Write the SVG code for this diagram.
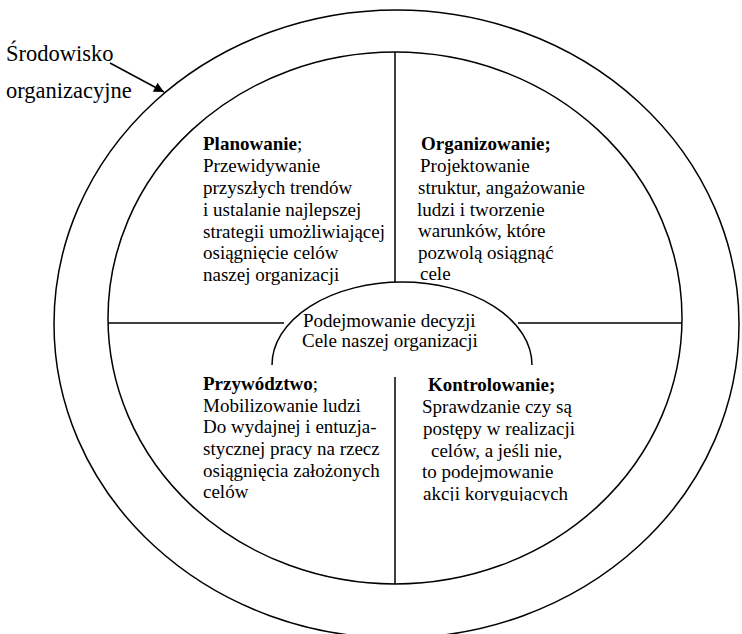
<svg xmlns="http://www.w3.org/2000/svg" width="742" height="634" viewBox="0 0 742 634">
<style>
  .ln { fill: none; stroke: #000; stroke-width: 1.5; }
  .t { font-family: "Liberation Serif", "Times New Roman", serif; font-size: 19px; fill: #000; }
  .lbl { font-family: "Liberation Serif", "Times New Roman", serif; font-size: 22.5px; fill: #000; }
  .b { font-weight: bold; }
</style>
<defs>
  <marker id="ah" viewBox="0 0 10 10" refX="10" refY="5" markerWidth="12" markerHeight="10" markerUnits="userSpaceOnUse" orient="auto">
    <path d="M0,0 L10,5 L0,10 Z" fill="#000"/>
  </marker>
  <clipPath id="clipK">
    <rect x="400" y="360" width="220" height="141"/>
  </clipPath>
</defs>
<rect width="742" height="634" fill="#fff"/>

<g id="environment">
  <ellipse class="ln" cx="396.5" cy="324" rx="342.5" ry="314"/>
  <text class="lbl" x="6" y="61">Środowisko</text>
  <text class="lbl" x="6" y="98">organizacyjne</text>
</g>

<g id="management">
  <ellipse class="ln" cx="395" cy="318" rx="287" ry="266"/>
  <g id="dividers">
    <line class="ln" x1="395" y1="52" x2="395" y2="282"/>
    <line class="ln" x1="395" y1="377" x2="395" y2="584"/>
    <line class="ln" x1="108" y1="323" x2="284" y2="323"/>
    <line class="ln" x1="518" y1="323" x2="682" y2="323"/>
  </g>
</g>

<g id="planowanie">
  <text class="t" x="203" y="150"><tspan class="b">Planowanie</tspan>;</text>
  <text class="t" x="203" y="172">Przewidywanie</text>
  <text class="t" x="203" y="194">przyszłych trendów</text>
  <text class="t" x="203" y="216">i ustalanie najlepszej</text>
  <text class="t" x="203" y="238">strategii umożliwiającej</text>
  <text class="t" x="203" y="259">osiągnięcie celów</text>
  <text class="t" x="203" y="281">naszej organizacji</text>
</g>

<g id="organizowanie">
  <text class="t b" x="421" y="150">Organizowanie;</text>
  <text class="t" x="420" y="172">Projektowanie</text>
  <text class="t" x="418" y="194">struktur, angażowanie</text>
  <text class="t" x="417" y="216">ludzi i tworzenie</text>
  <text class="t" x="418" y="237">warunków, które</text>
  <text class="t" x="418" y="259">pozwolą osiągnąć</text>
  <text class="t" x="420" y="280">cele</text>
</g>

<g id="decyzje">
  <path class="ln" d="M272,365 A130,83 0 0 1 532,365"/>
  <text class="t" x="303" y="327">Podejmowanie decyzji</text>
  <text class="t" x="302" y="347">Cele naszej organizacji</text>
</g>

<g id="przywodztwo">
  <text class="t" x="203" y="390"><tspan class="b">Przywództwo</tspan>;</text>
  <text class="t" x="203" y="412">Mobilizowanie ludzi</text>
  <text class="t" x="203" y="433">Do wydajnej i entuzja-</text>
  <text class="t" x="203" y="455">stycznej pracy na rzecz</text>
  <text class="t" x="203" y="477">osiągnięcia założonych</text>
  <text class="t" x="203" y="498">celów</text>
</g>

<g id="kontrolowanie">
  <text class="t b" x="428" y="391">Kontrolowanie;</text>
  <text class="t" x="422" y="413">Sprawdzanie czy są</text>
  <text class="t" x="423" y="435">postępy w realizacji</text>
  <text class="t" x="431" y="457">celów, a jeśli nie,</text>
  <text class="t" x="422" y="478">to podejmowanie</text>
  <g clip-path="url(#clipK)">
    <text class="t" x="423" y="500">akcji korygujących</text>
  </g>
</g>

<g id="connectors">
  <line class="ln" x1="110" y1="63" x2="164" y2="92" marker-end="url(#ah)"/>
</g>
</svg>
